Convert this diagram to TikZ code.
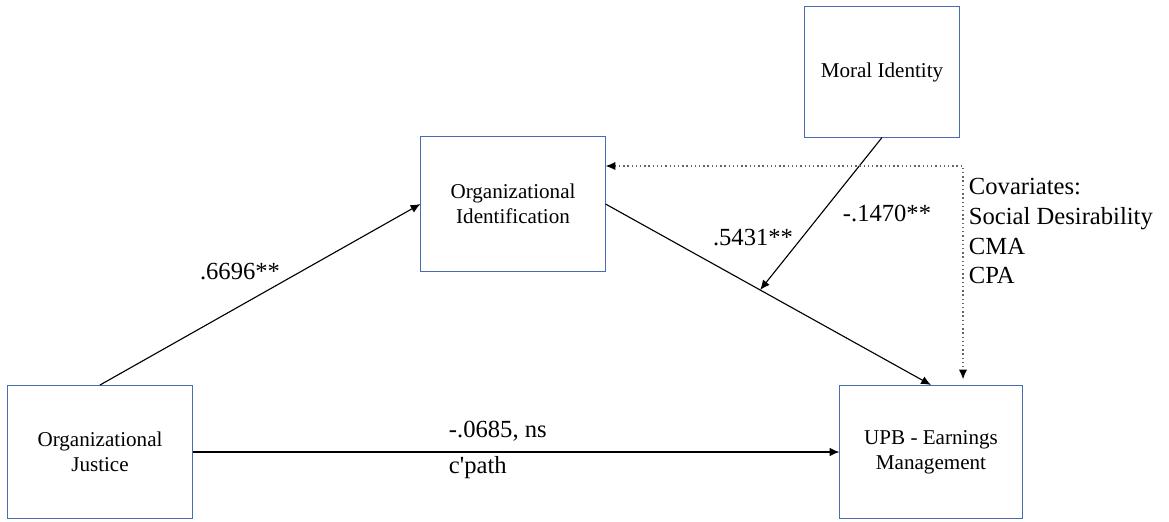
\documentclass[tikz,border=0pt]{standalone}
\usepackage{fontspec}
\setmainfont{Liberation Serif}
\newfontfamily\timesfont{Liberation Serif}
\usetikzlibrary{positioning,calc,arrows.meta}
\definecolor{boxblue}{RGB}{72,108,178}

\begin{document}
\begin{tikzpicture}[x=0.025cm,y=-0.025cm]

\tikzstyle{construct} = [rectangle,draw=boxblue,line width=0.7pt,inner sep=2pt,align=center,font=\timesfont\fontsize{15}{18}\selectfont]
\tikzstyle{coef} = [font=\timesfont\fontsize{17.5}{21.3}\selectfont]
\tikzstyle{arrow} = [draw,line width=0.8pt,-{Latex[length=7pt,width=6pt]}]
\tikzstyle{covline} = [draw=black!60,line width=1pt,dotted,{Latex[length=7pt,width=6pt,black]}-{Latex[length=7pt,width=6pt,black]}]

\useasboundingbox (0,0) rectangle (1169,521);

\node [construct, minimum width=3.875cm, minimum height=3.25cm] (mi) at (882,72) {Moral Identity};
\node [construct, minimum width=4.6cm, minimum height=3.35cm] (oi) at (513,204) {Organizational\\Identification};
\node [construct, minimum width=4.625cm, minimum height=3.325cm] (oj) at (100,452) {Organizational\\Justice};
\node [construct, minimum width=4.55cm, minimum height=3.325cm] (upb) at (931,452) {UPB - Earnings\\Management};

\coordinate (corner) at (963,166);
\coordinate (mod) at ($(oi.east)!0.475!(upb.north)$);

\draw [arrow] (oj.north) -- (oi.west);
\draw [arrow] (oi.east) -- (upb.north);
\draw [arrow] (mi.south) -- (mod);
\draw [arrow] (oj.east) -- (upb.west);
\draw [covline, shorten >=4] (oi.east |- corner) -- (corner) -- (corner |- upb.north);

\node [coef] (a) at (240,272) {.6696**};
\node [coef] (b) at (753,238) {.5431**};
\node [coef] (c) at (887,213) {-.1470**};
\node [coef, anchor=west, align=left, font=\timesfont\fontsize{17.5}{25}\selectfont] (cp) at (444,450) {-.0685, ns\\c'path};
\node [coef, anchor=west, align=left] (cov) at (964,231) {Covariates:\\Social Desirability\\CMA\\CPA};
\end{tikzpicture}
\end{document}
